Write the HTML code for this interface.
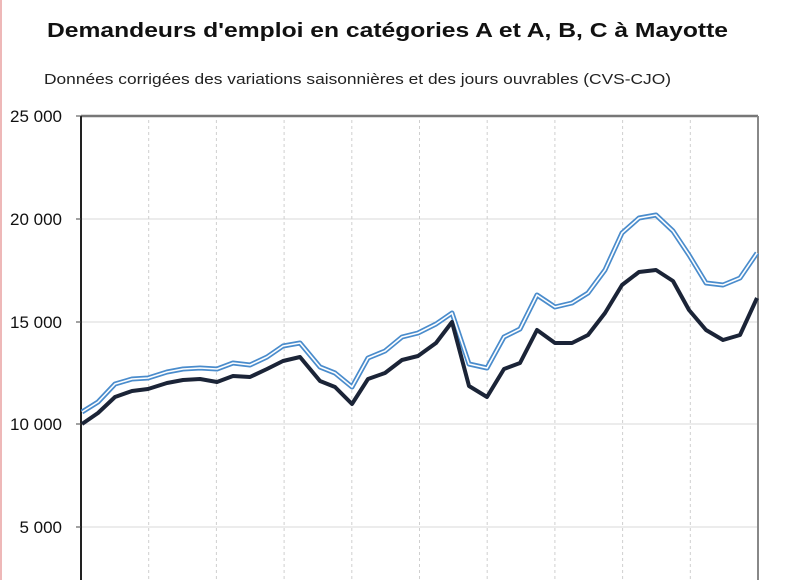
<!DOCTYPE html>
<html><head><meta charset="utf-8"><style>
html,body{margin:0;padding:0;background:#fff;}
svg{display:block;}
</style></head><body>
<svg width="800" height="580" viewBox="0 0 800 580" xmlns="http://www.w3.org/2000/svg" font-family="Liberation Sans, sans-serif">
<rect width="800" height="580" fill="#fff"/>
<line x1="1" y1="0" x2="1" y2="580" stroke="#e8a0a0" stroke-width="1.5"/>
<text x="47" y="37" font-size="20.5" font-weight="bold" fill="#111" textLength="681" lengthAdjust="spacingAndGlyphs">Demandeurs d'emploi en catégories A et A, B, C à Mayotte</text>
<text x="44" y="84" font-size="14.5" fill="#222" textLength="627" lengthAdjust="spacingAndGlyphs">Données corrigées des variations saisonnières et des jours ouvrables (CVS-CJO)</text>
<g stroke="#d8d8d8" stroke-width="1">
<line x1="81" y1="219" x2="758" y2="219"/><line x1="81" y1="322" x2="758" y2="322"/><line x1="81" y1="424" x2="758" y2="424"/><line x1="81" y1="527" x2="758" y2="527"/>
</g>
<g stroke="#cfcfcf" stroke-width="1" stroke-dasharray="3,3">
<line x1="148.7" y1="120" x2="148.7" y2="580"/><line x1="216.4" y1="120" x2="216.4" y2="580"/><line x1="284.1" y1="120" x2="284.1" y2="580"/><line x1="351.8" y1="120" x2="351.8" y2="580"/><line x1="419.5" y1="120" x2="419.5" y2="580"/><line x1="487.2" y1="120" x2="487.2" y2="580"/><line x1="554.9" y1="120" x2="554.9" y2="580"/><line x1="622.6" y1="120" x2="622.6" y2="580"/><line x1="690.3" y1="120" x2="690.3" y2="580"/>
</g>
<line x1="81" y1="116" x2="758" y2="116" stroke="#777" stroke-width="2.5"/>
<line x1="758" y1="116" x2="758" y2="580" stroke="#888" stroke-width="2"/>
<line x1="81" y1="116" x2="81" y2="580" stroke="#222" stroke-width="2"/>
<g stroke="#444" stroke-width="1"><line x1="76" y1="116" x2="81" y2="116"/><line x1="76" y1="219" x2="81" y2="219"/><line x1="76" y1="322" x2="81" y2="322"/><line x1="76" y1="424" x2="81" y2="424"/><line x1="76" y1="527" x2="81" y2="527"/></g>
<g font-size="17" fill="#111" text-anchor="end">
<text x="62" y="122">25 000</text><text x="62" y="225">20 000</text><text x="62" y="328">15 000</text><text x="62" y="430">10 000</text><text x="62" y="533">5 000</text>
</g>
<polyline fill="none" stroke="#4a8ccc" stroke-width="5" stroke-linejoin="round" points="82,412 98,402 115,384 132,379 148,378 167,372 183,369 200,368 217,369 233,363 250,365 267,357 283,346 300,343 320,367 335,373 352,387 368,358 385,351 402,337 418,333 436,324 452,313 469,364 487,368 504,337 520,329 537,295 555,307 572,303 588,293 605,270 622,233 639,218 656,215 673,231 689,255 706,283 723,285 740,278 757,253"/>
<polyline fill="none" stroke="#fff" stroke-width="1.6" stroke-linejoin="round" points="82,412 98,402 115,384 132,379 148,378 167,372 183,369 200,368 217,369 233,363 250,365 267,357 283,346 300,343 320,367 335,373 352,387 368,358 385,351 402,337 418,333 436,324 452,313 469,364 487,368 504,337 520,329 537,295 555,307 572,303 588,293 605,270 622,233 639,218 656,215 673,231 689,255 706,283 723,285 740,278 757,253"/>
<polyline fill="none" stroke="#1b2437" stroke-width="4" stroke-linejoin="round" points="82,424 98,413 115,397 132,391 148,389 167,383 183,380 200,379 217,382 233,376 250,377 267,369 283,361 300,357 320,381 335,387 352,404 368,379 385,373 402,360 418,356 436,343 452,322 469,386 487,397 504,369 520,363 537,330 555,343 572,343 588,335 605,313 622,285 639,272 656,270 673,281 689,310 706,330 723,340 740,335 757,298"/>
</svg>
</body></html>
